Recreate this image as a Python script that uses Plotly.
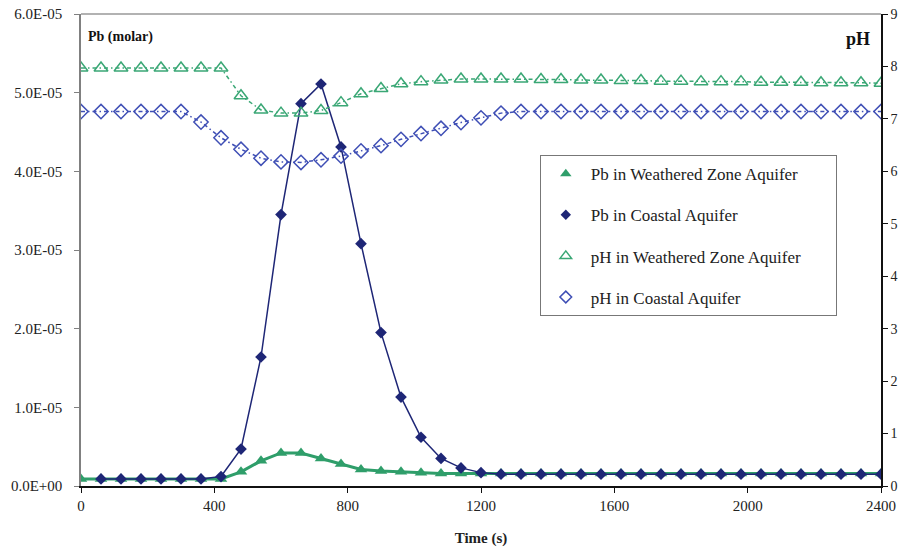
import plotly.graph_objects as go

time_s = [0, 60, 120, 180, 240, 300, 360, 420, 480, 540, 600, 660, 720, 780, 840, 900,
          960, 1020, 1080, 1140, 1200, 1260, 1320, 1380, 1440, 1500, 1560, 1620, 1680,
          1740, 1800, 1860, 1920, 1980, 2040, 2100, 2160, 2220, 2280, 2340, 2400]

# Pb concentrations (molar)
pb_weathered = [0.09e-5, 0.09e-5, 0.09e-5, 0.09e-5, 0.09e-5, 0.09e-5, 0.09e-5, 0.09e-5,
                0.18e-5, 0.32e-5, 0.42e-5, 0.42e-5, 0.35e-5, 0.28e-5, 0.21e-5, 0.19e-5,
                0.18e-5, 0.17e-5, 0.16e-5, 0.16e-5, 0.16e-5, 0.16e-5, 0.16e-5, 0.16e-5,
                0.16e-5, 0.16e-5, 0.16e-5, 0.16e-5, 0.16e-5, 0.16e-5, 0.16e-5, 0.16e-5,
                0.16e-5, 0.16e-5, 0.16e-5, 0.16e-5, 0.16e-5, 0.16e-5, 0.16e-5, 0.16e-5, 0.16e-5]
pb_coastal = [None, 0.09e-5, 0.09e-5, 0.09e-5, 0.09e-5, 0.09e-5, 0.09e-5, 0.12e-5,
              0.47e-5, 1.64e-5, 3.45e-5, 4.86e-5, 5.11e-5, 4.31e-5, 3.08e-5, 1.95e-5,
              1.13e-5, 0.62e-5, 0.35e-5, 0.23e-5, 0.17e-5, 0.15e-5, 0.15e-5, 0.15e-5,
              0.15e-5, 0.15e-5, 0.15e-5, 0.15e-5, 0.15e-5, 0.15e-5, 0.15e-5, 0.15e-5,
              0.15e-5, 0.15e-5, 0.15e-5, 0.15e-5, 0.15e-5, 0.15e-5, 0.15e-5, 0.15e-5, 0.15e-5]

# pH values
ph_weathered = [7.97, 7.97, 7.97, 7.97, 7.97, 7.97, 7.97, 7.97, 7.44, 7.17, 7.11, 7.11,
                7.16, 7.31, 7.48, 7.58, 7.67, 7.71, 7.74, 7.76, 7.76, 7.76, 7.76, 7.75,
                7.75, 7.74, 7.74, 7.73, 7.73, 7.72, 7.72, 7.71, 7.71, 7.71, 7.70, 7.70,
                7.70, 7.69, 7.69, 7.69, 7.68]
ph_coastal = [7.14, 7.14, 7.14, 7.14, 7.14, 7.14, 6.94, 6.64, 6.42, 6.25, 6.18, 6.17,
              6.22, 6.29, 6.39, 6.49, 6.61, 6.72, 6.82, 6.93, 7.02, 7.11, 7.14, 7.14,
              7.14, 7.14, 7.14, 7.14, 7.14, 7.14, 7.14, 7.14, 7.14, 7.14, 7.14, 7.14,
              7.14, 7.14, 7.14, 7.14, 7.14]

pb_tickvals = [0, 1e-5, 2e-5, 3e-5, 4e-5, 5e-5, 6e-5]
pb_ticktext = ["0.0E+00", "1.0E-05", "2.0E-05", "3.0E-05", "4.0E-05", "5.0E-05", "6.0E-05"]
x_tickvals = [0, 400, 800, 1200, 1600, 2000, 2400]

names = ["Pb in Weathered Zone Aquifer", "Pb in Coastal Aquifer",
         "pH in Weathered Zone Aquifer", "pH in Coastal Aquifer"]

GREEN = "#2f9e6a"
NAVY = "#1e2676"
GREEN_OPEN = "#3aa775"
BLUE_OPEN = "#3f4fb5"
FONT = "Times New Roman, Liberation Serif, DejaVu Serif, serif"

fig = go.Figure()

fig.add_trace(go.Scatter(
    x=time_s, y=pb_weathered, mode="lines+markers", name=names[0], showlegend=False,
    line=dict(color=GREEN, width=3),
    marker=dict(symbol="triangle-up", size=11, color=GREEN)))
fig.add_trace(go.Scatter(
    x=time_s, y=pb_coastal, mode="lines+markers", name=names[1], showlegend=False,
    line=dict(color=NAVY, width=1.5),
    marker=dict(symbol="diamond", size=9, color=NAVY)))
fig.add_trace(go.Scatter(
    x=time_s, y=ph_weathered, mode="lines+markers", name=names[2], showlegend=False,
    yaxis="y2", line=dict(color=GREEN_OPEN, width=1.5, dash="4px,3px,1.5px,3px"),
    marker=dict(symbol="triangle-up-open", size=12, color=GREEN_OPEN, line=dict(width=1.5))))
fig.add_trace(go.Scatter(
    x=time_s, y=ph_coastal, mode="lines+markers", name=names[3], showlegend=False,
    yaxis="y2", line=dict(color=BLUE_OPEN, width=1.5, dash="4px,3px,1.5px,3px"),
    marker=dict(symbol="diamond-open", size=11, color=BLUE_OPEN, line=dict(width=1.5))))

# legend-only entries (markers only, as in the reference legend)
legend_styles = [
    dict(symbol="triangle-up", size=10, color=GREEN),
    dict(symbol="diamond", size=8, color=NAVY),
    dict(symbol="triangle-up-open", size=10, color=GREEN_OPEN, line=dict(width=1.5)),
    dict(symbol="diamond-open", size=9, color=BLUE_OPEN, line=dict(width=1.5)),
]
legend_labels = [names[0], names[1], names[2] + "\u00a0" * 7, names[3]]
for i, (nm, ms) in enumerate(zip(legend_labels, legend_styles)):
    fig.add_trace(go.Scatter(
        x=[None], y=[None], mode="markers", name=nm, marker=ms,
        legendgroup=f"g{i}", showlegend=True))

fig.update_layout(
    width=909, height=551,
    margin=dict(l=81, r=28, t=14, b=65, autoexpand=False),
    paper_bgcolor="white", plot_bgcolor="white",
    font=dict(family=FONT, size=15, color="#222"),
    showlegend=True,
    legend=dict(x=0.5735, y=0.701, xanchor="left", yanchor="top",
                bgcolor="white", bordercolor="#777", borderwidth=1,
                font=dict(family=FONT, size=17, color="#222"),
                tracegroupgap=16, itemwidth=40),
    xaxis=dict(range=[0, 2400], tickvals=x_tickvals, showgrid=False, zeroline=False,
               showline=True, linecolor="#111", linewidth=1.5, automargin=False,
               ticks="outside", ticklen=5, tickcolor="#111",
               title=dict(text="<b>Time (s)</b>", font=dict(size=15, family=FONT), standoff=20),
               tickfont=dict(size=15, family=FONT)),
    yaxis=dict(range=[0, 6e-5], tickvals=pb_tickvals, ticktext=pb_ticktext,
               showgrid=False, zeroline=False, showline=True, linecolor="#808080",
               linewidth=1.5, ticks="outside", ticklen=5, tickcolor="#808080",
               automargin=False, ticklabelstandoff=9, tickfont=dict(size=15, family=FONT)),
    yaxis2=dict(range=[0, 9], dtick=1, overlaying="y", side="right",
                showgrid=False, zeroline=False, showline=True, linecolor="#111",
                linewidth=1.5, ticks="outside", ticklen=5, tickcolor="#111",
                automargin=False, tickfont=dict(size=14, family=FONT)),
    shapes=[dict(type="line", xref="paper", yref="paper", x0=0, x1=1, y0=1, y1=1,
                 line=dict(color="#999", width=1.5))],
    annotations=[
        dict(text="<b>Pb (molar)</b>", xref="paper", yref="paper", x=0.006, y=0.952,
             xanchor="left", yanchor="middle", showarrow=False,
             font=dict(size=14, family=FONT, color="#111")),
        dict(text="<b>pH</b>", xref="paper", yref="paper", x=0.989, y=0.946,
             xanchor="right", yanchor="middle", showarrow=False,
             font=dict(size=18, family=FONT, color="#111")),
    ],
)

fig.write_html("out.html", config={"displayModeBar": False},
               post_script="document.body.style.margin='0';")
